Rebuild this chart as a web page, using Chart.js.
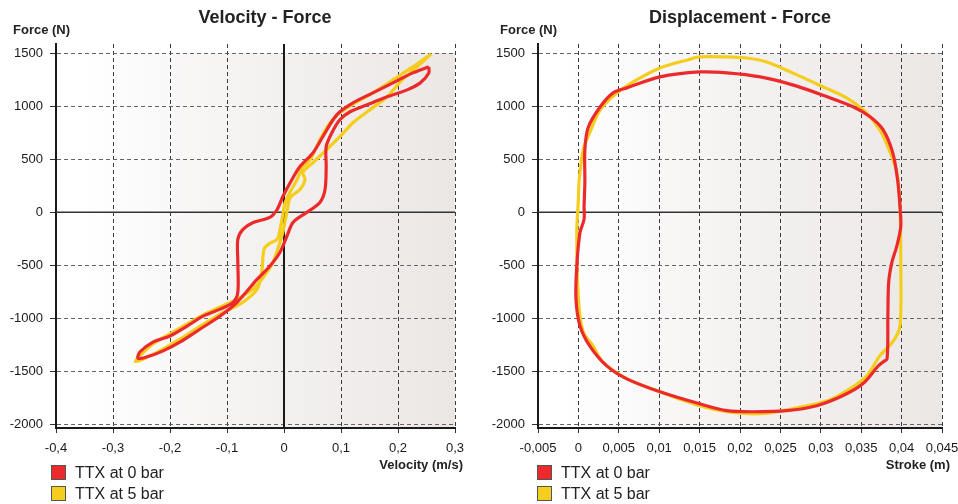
<!DOCTYPE html>
<html>
<head>
<meta charset="utf-8">
<script src="https://cdn.jsdelivr.net/npm/chart.js@4.4.1/dist/chart.umd.min.js"></script>
<style>
  html, body { margin: 0; padding: 0; background: #fff; }
  body { width: 958px; height: 504px; position: relative; overflow: hidden; font-family: "Liberation Sans", Arial, sans-serif; }
  .box { position: absolute; top: 0; height: 504px; }
  .legend { position: absolute; font-size: 16px; color: #222; }
  .legend div { position: relative; height: 21px; line-height: 21px; padding-left: 24px; white-space: nowrap; }
  .legend span { position: absolute; left: 0; top: 3px; width: 13px; height: 13px; border: 1px solid #555; }
</style>
</head>
<body>
<div class="box" style="left:0;width:480px"><canvas id="velChart" width="480" height="504"></canvas></div>
<div class="box" style="left:480px;width:478px"><canvas id="dispChart" width="478" height="504"></canvas></div>
<div class="legend" id="velLegend" style="left:51px;top:462px"></div>
<div class="legend" id="dispLegend" style="left:537px;top:462px"></div>
<script>
// --- DATOS ---
const etiquetas = ['TTX at 0 bar', 'TTX at 5 bar'];
const colores = ['#ec2a2c', '#f5cd1c'];

const forceTicks = [-2000, -1500, -1000, -500, 0, 500, 1000, 1500];
const velTicks = [-0.4, -0.3, -0.2, -0.1, 0, 0.1, 0.2, 0.3];
const strokeTicks = [-0.005, 0, 0.005, 0.01, 0.015, 0.02, 0.025, 0.03, 0.035, 0.04, 0.045];

// Velocity - Force, TTX at 0 bar
const velRed = [0.254, 0.226, 0.191, 0.156, 0.121, 0.098, 0.086, 0.068, 0.051, 0.028, 0.011, -0.002, -0.012, -0.025, -0.054, -0.072, -0.081, -0.081, -0.081, -0.089, -0.112, -0.142, -0.170, -0.200, -0.230, -0.253, -0.256,
  -0.240, -0.212, -0.182, -0.147, -0.112, -0.082, -0.047, -0.025, -0.007, 0.005, 0.016, 0.040, 0.063, 0.072, 0.074, 0.074, 0.084, 0.098, 0.116, 0.146, 0.181, 0.216, 0.239, 0.254, 0.254];
const forceVelRed = [1370, 1313, 1219, 1125, 1031, 947, 872, 712, 562, 431, 281, 149, 27, -48, -95, -160, -254, -470, -752, -845, -911, -977, -1071, -1164, -1221, -1315, -1375,
  -1360, -1304, -1220, -1098, -976, -845, -629, -507, -375, -225, -94, 0, 93, 215, 431, 619, 750, 872, 947, 1013, 1088, 1153, 1219, 1313, 1370];

// Velocity - Force, TTX at 5 bar
const velYellow = [0.258, 0.226, 0.191, 0.156, 0.128, 0.098, 0.081, 0.063, 0.046, 0.032, 0.023, 0.011, 0.002, -0.002, -0.007, -0.012, -0.025, -0.035, -0.039, -0.047, -0.072, -0.112, -0.147, -0.182, -0.218, -0.247, -0.261,
  -0.253, -0.230, -0.200, -0.170, -0.142, -0.112, -0.082, -0.054, -0.039, -0.021, -0.011, -0.002, 0.005, 0.011, 0.028, 0.037, 0.033, 0.051, 0.075, 0.098, 0.121, 0.146, 0.181, 0.204, 0.233, 0.258];
const forceVelYellow = [1490, 1369, 1247, 1125, 1041, 938, 844, 684, 496, 421, 309, 196, 93, -20, -160, -254, -291, -347, -563, -723, -845, -957, -1070, -1192, -1304, -1380, -1405,
  -1351, -1239, -1145, -1051, -966, -891, -816, -722, -629, -488, -347, -187, 0, 140, 215, 309, 375, 469, 591, 712, 844, 947, 1088, 1229, 1369, 1490];

// Displacement - Force, TTX at 0 bar
const strokeRed = [0.0007, 0.0008, 0.0008, 0.0012, 0.0027, 0.0043, 0.0060, 0.0101, 0.0150, 0.0184, 0.0225, 0.0265, 0.0308, 0.0340, 0.0361, 0.0377, 0.0389, 0.0395, 0.0398, 0.0399, 0.0394, 0.0388, 0.0384, 0.0383, 0.0382,
  0.0377, 0.0371, 0.0352, 0.0327, 0.0295, 0.0258, 0.0216, 0.0184, 0.0150, 0.0101, 0.0060, 0.0035, 0.0014, 0.0002, -0.0003, -0.0002, 0.0002, 0.0007, 0.0007];
const forceStrokeRed = [55, 281, 590, 797, 994, 1125, 1172, 1275, 1322, 1313, 1275, 1200, 1088, 994, 900, 778, 562, 309, 55, -132, -320, -470, -657, -976, -1379,
  -1408, -1446, -1614, -1727, -1820, -1867, -1877, -1867, -1802, -1689, -1567, -1445, -1257, -1070, -816, -507, -188, -66, 55];

// Displacement - Force, TTX at 5 bar
const strokeYellow = [0.0000, 0.0001, 0.0006, 0.0014, 0.0027, 0.0048, 0.0072, 0.0101, 0.0135, 0.0150, 0.0184, 0.0208, 0.0233, 0.0265, 0.0303, 0.0332, 0.0355, 0.0373, 0.0386, 0.0394, 0.0398, 0.0399, 0.0398,
  0.0389, 0.0373, 0.0357, 0.0336, 0.0308, 0.0265, 0.0225, 0.0184, 0.0150, 0.0101, 0.0060, 0.0030, 0.0018, 0.0006, 0.0000, -0.0002, 0.0000];
const forceStrokeYellow = [121, 309, 590, 750, 966, 1125, 1247, 1360, 1435, 1463, 1463, 1453, 1416, 1313, 1181, 1078, 947, 778, 562, 375, 55, -507, -1070,
  -1220, -1351, -1539, -1661, -1774, -1849, -1896, -1877, -1820, -1689, -1567, -1408, -1257, -1126, -816, -188, 121];

// --- UTILIDADES ---
function puntos(xs, ys) {
  return xs.map((x, i) => ({ x: x, y: ys[i] }));
}

function formatoComa(v) {
  return String(+v.toFixed(4)).replace('.', ',');
}

const fuente = '"Liberation Sans", Arial, sans-serif';

// fondo degradado, lineas de cero y textos
const decoracion = {
  id: 'decoracion',
  beforeDraw(chart, args, opts) {
    const { ctx, chartArea, scales } = chart;
    const yTop = scales.y.getPixelForValue(1500);
    const grad = ctx.createLinearGradient(chartArea.left, 0, chartArea.right, 0);
    grad.addColorStop(0, '#ffffff');
    grad.addColorStop(0.06, '#ffffff');
    grad.addColorStop(0.5, '#f4f2f1');
    grad.addColorStop(1, '#ebe7e5');
    ctx.save();
    ctx.fillStyle = grad;
    ctx.fillRect(chartArea.left, yTop, chartArea.right - chartArea.left, chartArea.bottom - yTop);
    ctx.restore();
  },
  beforeDatasetsDraw(chart, args, opts) {
    const { ctx, chartArea, scales } = chart;
    ctx.save();
    ctx.strokeStyle = '#333';
    ctx.lineWidth = 1.5;
    const y0 = scales.y.getPixelForValue(0);
    ctx.beginPath();
    ctx.moveTo(chartArea.left, y0);
    ctx.lineTo(chartArea.right, y0);
    ctx.stroke();
    if (opts.ejeX0) {
      const x0 = scales.x.getPixelForValue(0);
      ctx.strokeStyle = '#1a1a1a';
      ctx.lineWidth = 2;
      ctx.beginPath();
      ctx.moveTo(x0, chartArea.top);
      ctx.lineTo(x0, chartArea.bottom);
      ctx.stroke();
    }
    ctx.restore();
  },
  afterDraw(chart, args, opts) {
    const { ctx, chartArea } = chart;
    ctx.save();
    ctx.fillStyle = '#222';
    ctx.textBaseline = 'alphabetic';
    ctx.font = 'bold 18px ' + fuente;
    ctx.textAlign = 'center';
    ctx.fillText(opts.titulo, opts.tituloX, 23);
    ctx.font = 'bold 13px ' + fuente;
    ctx.textAlign = 'left';
    ctx.fillText('Force (N)', opts.fuerzaX, 34);
    ctx.textAlign = 'right';
    ctx.fillText(opts.ejeTitulo, chartArea.right + opts.ejeDx, 469);
    ctx.restore();
  }
};

function crearGrafico(id, datasets, xMin, xMax, xTicks, leftW, rightPad, deco) {
  const ctx = document.getElementById(id).getContext('2d');
  return new Chart(ctx, {
    type: 'scatter',
    data: { datasets: datasets },
    plugins: [decoracion],
    options: {
      responsive: false,
      animation: false,
      layout: { padding: { left: 0, right: rightPad, top: 44, bottom: 0 } },
      scales: {
        x: {
          type: 'linear',
          min: xMin,
          max: xMax,
          afterBuildTicks: s => { s.ticks = xTicks.map(v => ({ value: v })); },
          afterFit: s => { s.height = 76; s.paddingLeft = 0; s.paddingRight = 0; },
          grid: { color: '#3a3a3a', lineWidth: 1, tickLength: 5, tickColor: '#333' },
          border: { display: true, color: '#1a1a1a', width: 2, dash: [4, 3] },
          ticks: {
            color: '#1a1a1a',
            padding: 8,
            maxRotation: 0,
            font: { family: fuente, size: 13 },
            callback: v => formatoComa(v)
          }
        },
        y: {
          type: 'linear',
          min: -2030,
          max: 1585,
          afterBuildTicks: s => { s.ticks = forceTicks.map(v => ({ value: v })); },
          afterFit: s => { s.width = leftW; s.paddingTop = 0; s.paddingBottom = 0; },
          grid: { color: '#666', lineWidth: 1, tickLength: 6, tickColor: '#333' },
          border: { display: true, color: '#1a1a1a', width: 2, dash: [4, 3] },
          ticks: {
            color: '#1a1a1a',
            padding: 7,
            font: { family: fuente, size: 13 },
            callback: v => String(v)
          }
        }
      },
      plugins: {
        legend: { display: false },
        tooltip: { enabled: false },
        decoracion: deco
      }
    }
  });
}

function serie(i, xs, ys) {
  return {
    label: etiquetas[i],
    data: puntos(xs, ys),
    showLine: true,
    borderColor: colores[i],
    backgroundColor: colores[i],
    borderWidth: 3.2,
    pointRadius: 0,
    tension: 0.3,
    fill: false
  };
}

function leyenda(id) {
  const el = document.getElementById(id);
  etiquetas.forEach((t, i) => {
    const d = document.createElement('div');
    const s = document.createElement('span');
    s.style.background = colores[i];
    d.appendChild(s);
    d.appendChild(document.createTextNode(t));
    el.appendChild(d);
  });
}

// --- GRÁFICOS ---
crearGrafico('velChart',
  [serie(0, velRed, forceVelRed), serie(1, velYellow, forceVelYellow)],
  -0.4, 0.3, velTicks, 56, 25,
  { titulo: 'Velocity - Force', tituloX: 265, fuerzaX: 13, ejeTitulo: 'Velocity (m/s)', ejeDx: 8, ejeX0: true });

crearGrafico('dispChart',
  [serie(0, strokeRed, forceStrokeRed), serie(1, strokeYellow, forceStrokeYellow)],
  -0.005, 0.045, strokeTicks, 58, 16,
  { titulo: 'Displacement - Force', tituloX: 260, fuerzaX: 20, ejeTitulo: 'Stroke (m)', ejeDx: 8, ejeX0: false });

leyenda('velLegend');
leyenda('dispLegend');
</script>
</body>
</html>
